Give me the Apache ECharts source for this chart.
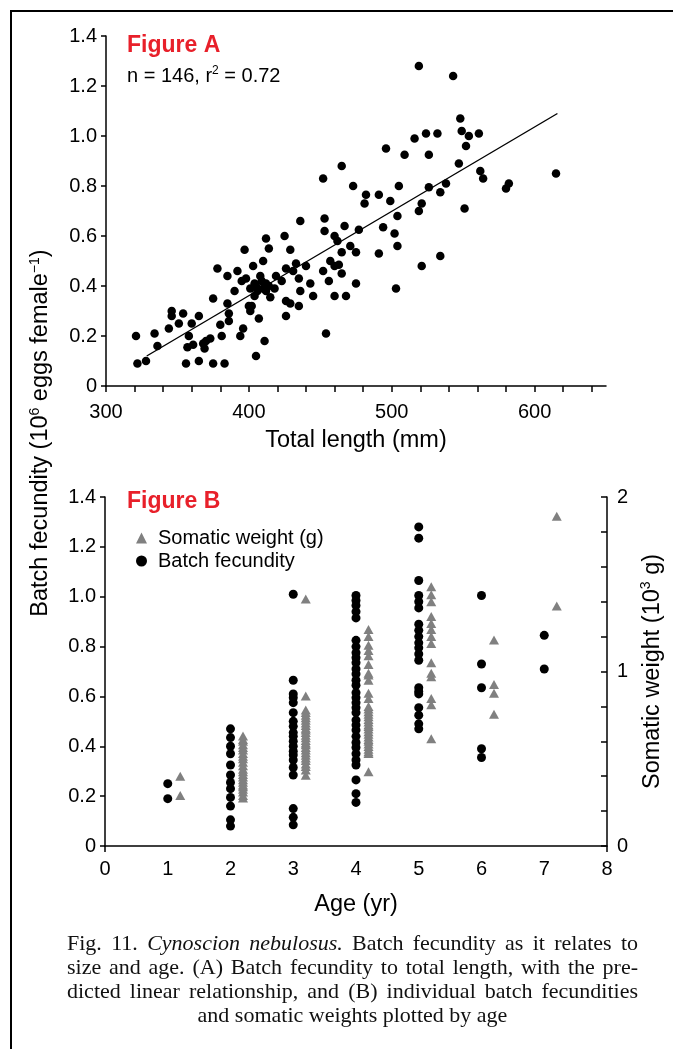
<!DOCTYPE html>
<html>
<head>
<meta charset="utf-8">
<script src="https://cdn.jsdelivr.net/npm/echarts@6/dist/echarts.min.js"></script>
<style>
  html, body { margin: 0; padding: 0; background: #fff; }
  #chart { position: absolute; left: 0; top: 0; width: 673px; height: 1049px; }
  #caption { position: absolute; left: 67px; top: 931px; width: 571px;
    font-family: 'Liberation Serif', 'Times New Roman', serif; font-size: 22px;
    line-height: 24px; color: #111; }
  #caption .j { text-align: justify; text-align-last: justify; white-space: nowrap; }
  #caption .c { text-align: center; }
</style>
</head>
<body>
<div id="chart"></div>
<div id="caption">
  <div class="j">Fig. 11. <i>Cynoscion nebulosus.</i> Batch fecundity as it relates to</div>
  <div class="j">size and age. (A) Batch fecundity to total length, with the pre-</div>
  <div class="j">dicted linear relationship, and (B) individual batch fecundities</div>
  <div class="c">and somatic weights plotted by age</div>
</div>
<script>
// ---------- Figure A data ----------
const totalLength = [
  321,322,328,334,336,344,346,346,351,354,356,358,357,360,361,365,365,368,369,370,
  373,375,375,378,380,381,383,385,385,386,386,390,392,394,396,395,397,398,400,401,
  401,402,403,404,404,405,405,407,408,410,410,411,412,412,412,414,415,419,423,425,
  426,426,426,429,429,431,433,435,435,436,436,440,443,445,452,453,453,454,456,457,
  460,460,460,462,463,465,465,467,468,471,475,475,477,
  481,499,521,519,551,504,494,502,491,504,534,521,503,
  519,543,548,549,554,561,552,524,532,516,496,509,526,465,547,562,564,473,482,491,
  505,526,538,534,580,582,615,
  452,
  406,409,414,418
];
const fecundityA = [
  0.20,0.09,0.10,0.21,0.16,0.23,0.30,0.28,0.25,0.29,0.09,0.20,0.155,0.25,0.165,0.28,0.10,0.17,0.15,0.18,
  0.19,0.35,0.09,0.47,0.245,0.20,0.09,0.33,0.44,0.29,0.26,0.38,0.46,0.20,0.23,0.42,0.545,0.43,0.32,0.39,
  0.30,0.32,0.48,0.41,0.36,0.12,0.40,0.27,0.44,0.50,0.39,0.18,0.59,0.41,0.38,0.55,0.355,0.44,0.42,0.60,
  0.47,0.34,0.28,0.33,0.545,0.46,0.49,0.43,0.32,0.66,0.38,0.48,0.41,0.36,0.46,0.67,0.62,0.21,0.42,0.50,
  0.60,0.48,0.36,0.58,0.485,0.45,0.535,0.64,0.36,0.56,0.535,0.41,0.625,
  0.73,0.74,0.73,0.70,0.71,0.68,0.635,0.61,0.53,0.56,0.52,0.48,0.39,
  1.28,1.24,1.07,1.02,1.00,1.01,0.96,1.01,1.01,0.99,0.95,0.925,0.925,0.88,0.89,0.86,0.83,0.80,0.765,0.765,
  0.80,0.795,0.81,0.775,0.79,0.81,0.85,
  0.83,
  0.38,0.42,0.40,0.39
];
// predicted linear relationship, end points
const fitLine = [[328.5, 0.12], [616, 1.09]];
const xTicksA = [300,320,340,360,380,400,420,440,460,480,500,520,540,560,580,600,620,640];
const xLabelsA = [300,400,500,600];

// ---------- Figure B data ----------
const ages = [1, 2, 3, 4, 5, 6, 7];
const batchFecundity = [
  [0.25, 0.19],
  [0.47, 0.435, 0.40, 0.37, 0.325, 0.285, 0.255, 0.23, 0.195, 0.16, 0.105, 0.08],
  [1.01, 0.665, 0.61, 0.595, 0.575, 0.535, 0.50, 0.48, 0.455, 0.44, 0.42, 0.40, 0.38, 0.365, 0.345, 0.315, 0.285, 0.15, 0.115, 0.085],
  [1.005, 0.985, 0.965, 0.94, 0.915, 0.825, 0.80, 0.775, 0.755, 0.735, 0.71, 0.69, 0.665, 0.645, 0.615, 0.595, 0.575, 0.555, 0.535, 0.505, 0.485, 0.465, 0.44, 0.415, 0.395, 0.37, 0.345, 0.325, 0.265, 0.21, 0.175],
  [1.28, 1.235, 1.065, 1.005, 0.98, 0.955, 0.89, 0.865, 0.84, 0.815, 0.795, 0.77, 0.745, 0.635, 0.62, 0.61, 0.555, 0.525, 0.49, 0.47],
  [1.005, 0.73, 0.635, 0.39, 0.355],
  [0.845, 0.71]
];
const somaticWeight = [ // 10^3 g
  [0.40, 0.29],
  [0.63, 0.61, 0.60, 0.58, 0.565, 0.55, 0.53, 0.515, 0.50, 0.48, 0.46, 0.44, 0.425, 0.41, 0.395, 0.38, 0.365, 0.35, 0.34, 0.325, 0.31, 0.29, 0.275],
  [1.415, 0.86, 0.78, 0.765, 0.75, 0.735, 0.72, 0.705, 0.69, 0.675, 0.665, 0.65, 0.635, 0.62, 0.605, 0.59, 0.58, 0.565, 0.55, 0.535, 0.52, 0.505, 0.49, 0.47, 0.455, 0.435, 0.405],
  [1.24, 1.20, 1.15, 1.12, 1.09, 1.04, 0.99, 0.98, 0.95, 0.875, 0.845, 0.80, 0.785, 0.77, 0.755, 0.74, 0.725, 0.71, 0.695, 0.685, 0.67, 0.655, 0.64, 0.625, 0.61, 0.60, 0.585, 0.57, 0.555, 0.54, 0.53, 0.425],
  [1.485, 1.44, 1.40, 1.315, 1.275, 1.24, 1.20, 1.16, 1.05, 0.99, 0.97, 0.845, 0.81, 0.615],
  [1.18, 0.925, 0.875, 0.755],
  [1.89, 1.375]
];
const rightLabelsB = [0, 1, 2];

// ---------- build ----------
const FONT = "'Liberation Sans', Arial, Helvetica, sans-serif";
const BLACK = '#000';
const GREY = '#808080';

const ptsA = totalLength.map((x, i) => [x, fecundityA[i]]);
const ptsFec = [];
ages.forEach((a, i) => batchFecundity[i].forEach(v => ptsFec.push([a, v])));
const ptsSom = [];
ages.forEach((a, i) => somaticWeight[i].forEach(v => ptsSom.push([a, v])));

const lineStyle = { color: BLACK, width: 1.5 };
const tickLabel = { color: BLACK, fontSize: 20, fontFamily: FONT };
const fmtY = v => (v === 0 ? '0' : v.toFixed(1));
const supRich = {
  n: { fontSize: 23.5, fontFamily: FONT, color: BLACK, lineHeight: 26 },
  s: { fontSize: 14, fontFamily: FONT, color: BLACK, verticalAlign: 'top', lineHeight: 26 }
};

const chart = echarts.init(document.getElementById('chart'), null, { renderer: 'canvas' });
chart.setOption({
  animation: false,
  backgroundColor: '#fff',
  grid: [
    { left: 106, top: 36, width: 500, height: 350, outerBoundsMode: 'none' },
    { left: 105, top: 497, width: 502, height: 349, outerBoundsMode: 'none' }
  ],
  xAxis: [
    {
      type: 'value', gridIndex: 0, min: 300, max: 650,
      axisLine: { onZero: false, lineStyle },
      axisTick: { show: true, length: 6, lineStyle, customValues: xTicksA },
      axisLabel: { ...tickLabel, margin: 16, customValues: xLabelsA },
      splitLine: { show: false },
      name: 'Total length (mm)', nameLocation: 'middle', nameGap: 43,
      nameTextStyle: { fontSize: 23.5, fontFamily: FONT, color: BLACK }
    },
    {
      type: 'value', gridIndex: 1, min: 0, max: 8, interval: 1,
      axisLine: { onZero: false, lineStyle },
      axisTick: { show: true, length: 6, lineStyle, customValues: [0, 8] },
      axisLabel: { ...tickLabel, margin: 13 },
      splitLine: { show: false },
      name: 'Age (yr)', nameLocation: 'middle', nameGap: 47,
      nameTextStyle: { fontSize: 23.5, fontFamily: FONT, color: BLACK }
    }
  ],
  yAxis: [
    {
      type: 'value', gridIndex: 0, min: 0, max: 1.4, interval: 0.2,
      axisLine: { show: true, onZero: false, lineStyle },
      axisTick: { show: true, length: 5, lineStyle },
      axisLabel: { ...tickLabel, margin: 9, formatter: fmtY },
      splitLine: { show: false }
    },
    {
      type: 'value', gridIndex: 1, min: 0, max: 1.4, interval: 0.2,
      axisLine: { show: true, onZero: false, lineStyle },
      axisTick: { show: true, length: 5, lineStyle },
      axisLabel: { ...tickLabel, margin: 9, formatter: fmtY },
      splitLine: { show: false }
    },
    {
      type: 'value', gridIndex: 1, position: 'right', min: 0, max: 2, interval: 0.2,
      axisLine: { show: true, onZero: false, lineStyle },
      axisTick: { show: true, inside: true, length: 6, lineStyle },
      axisLabel: { ...tickLabel, margin: 10, customValues: rightLabelsB },
      splitLine: { show: false },
      name: '{n|Somatic weight (10}{s|3}{n| g)}', nameLocation: 'middle', nameGap: 27,
      nameTextStyle: { rich: supRich }
    }
  ],
  legend: {
    orient: 'vertical', left: 131, top: 523, itemWidth: 11, itemHeight: 11, itemGap: 3,
    selectedMode: false,
    textStyle: { fontSize: 20, fontFamily: FONT, color: BLACK, padding: [0, 0, 0, 6] },
    data: [
      { name: 'Somatic weight (g)', icon: 'triangle', itemStyle: { color: GREY } },
      { name: 'Batch fecundity', icon: 'circle', itemStyle: { color: BLACK } }
    ]
  },
  series: [
    {
      name: 'Figure A points', type: 'scatter', xAxisIndex: 0, yAxisIndex: 0,
      data: ptsA, symbolSize: 8.5, itemStyle: { color: BLACK, opacity: 1 }, silent: true
    },
    {
      name: 'Predicted', type: 'line', xAxisIndex: 0, yAxisIndex: 0, data: fitLine,
      showSymbol: false, symbol: 'none', lineStyle: { color: BLACK, width: 1.4 }, z: 3, silent: true
    },
    {
      name: 'Batch fecundity', type: 'scatter', xAxisIndex: 1, yAxisIndex: 1,
      data: ptsFec, symbolSize: 9, itemStyle: { color: BLACK, opacity: 1 }, silent: true
    },
    {
      name: 'Somatic weight (g)', type: 'scatter', xAxisIndex: 1, yAxisIndex: 2,
      data: ptsSom, symbol: 'triangle', symbolSize: [10, 9], symbolOffset: [12.5, 0],
      itemStyle: { color: GREY, opacity: 1 }, silent: true
    }
  ],
  graphic: [
    { type: 'line', shape: { x1: 11, y1: 10, x2: 11, y2: 1049 }, style: { stroke: BLACK, lineWidth: 2 } },
    { type: 'line', shape: { x1: 10, y1: 11, x2: 673, y2: 11 }, style: { stroke: BLACK, lineWidth: 2 } },
    { type: 'text', x: 127, y: 46, style: { text: 'Figure A', fill: '#e8202a', font: 'bold 23px ' + FONT, textVerticalAlign: 'middle' } },
    { type: 'text', x: 127, y: 502, style: { text: 'Figure B', fill: '#e8202a', font: 'bold 23px ' + FONT, textVerticalAlign: 'middle' } },
    { type: 'text', x: 127, y: 76, style: {
        text: '{n|n = 146, r}{s|2}{n| = 0.72}', textVerticalAlign: 'middle',
        rich: { n: { fontSize: 20, fontFamily: FONT, color: BLACK, lineHeight: 22 },
                s: { fontSize: 12, fontFamily: FONT, color: BLACK, verticalAlign: 'top', lineHeight: 22 } } } },
    { type: 'text', x: 41, y: 433, rotation: Math.PI / 2, style: {
        text: '{n|Batch fecundity (10}{s|6}{n| eggs female}{s|\u22121}{n|)}',
        textAlign: 'center', textVerticalAlign: 'middle', rich: supRich } }
  ]
});
</script>
</body>
</html>
